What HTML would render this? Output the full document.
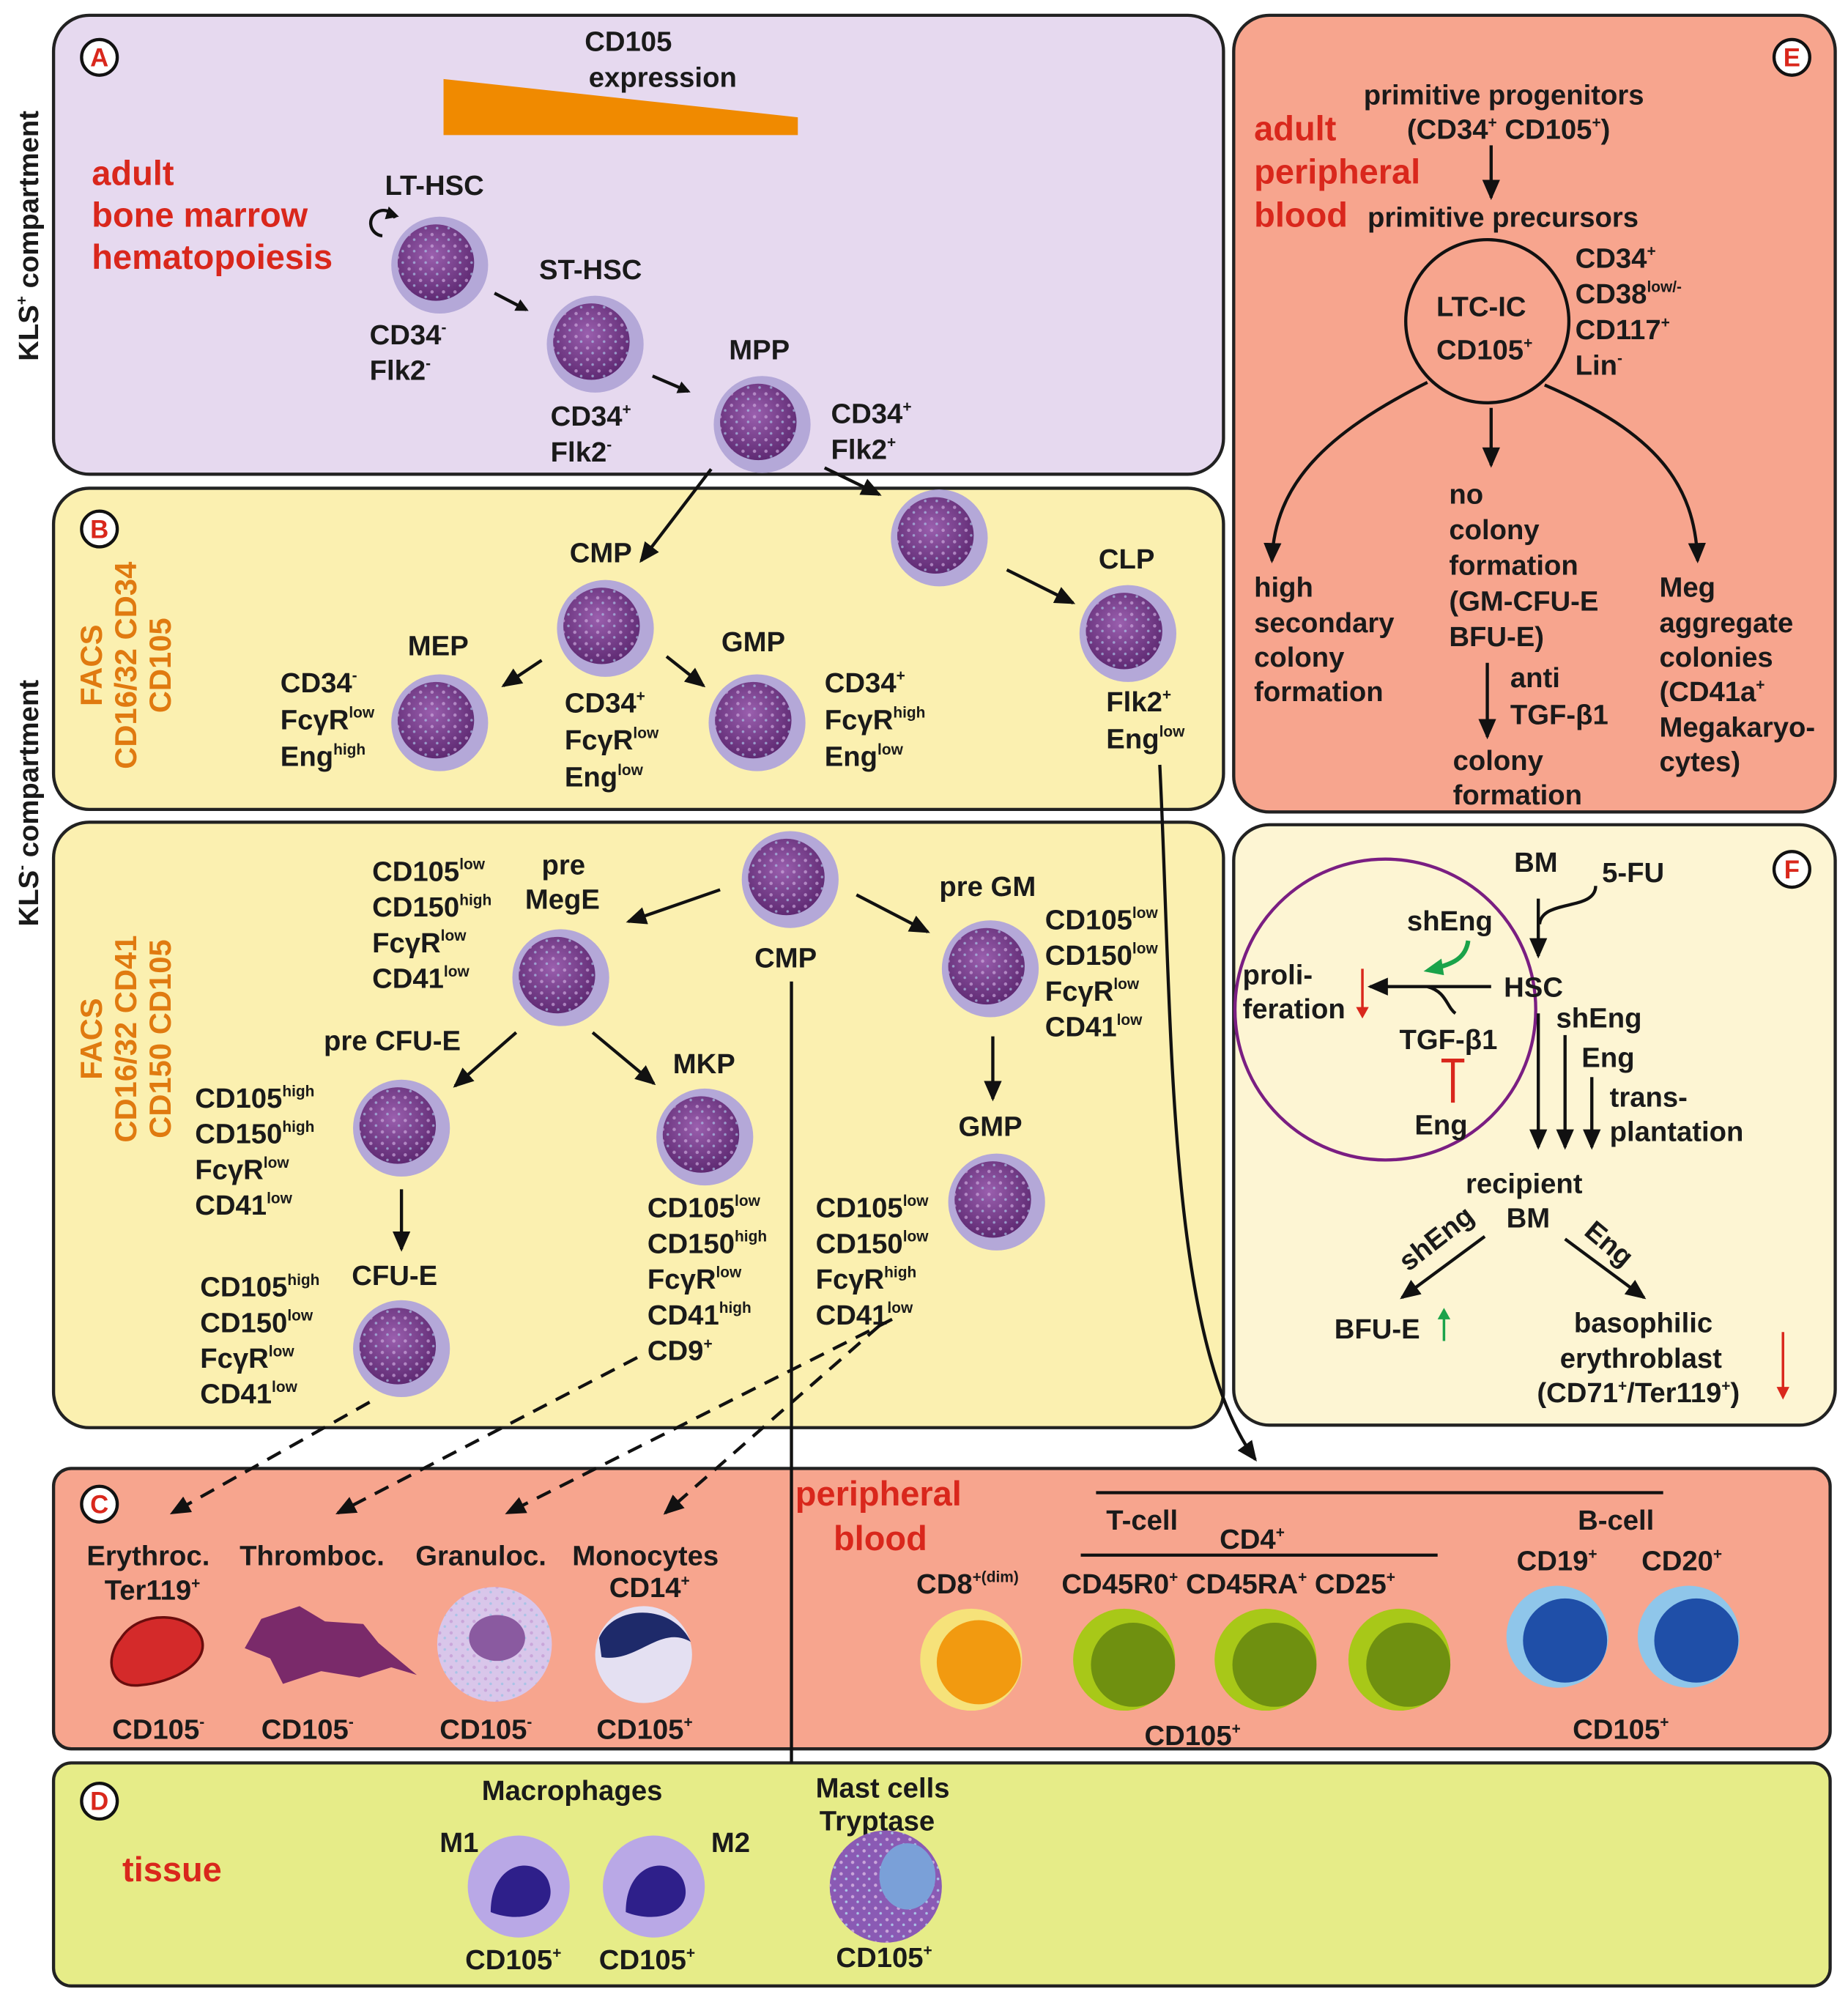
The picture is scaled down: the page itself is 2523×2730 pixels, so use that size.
<!DOCTYPE html>
<html><head><meta charset="utf-8"><style>
html,body{margin:0;padding:0;background:#fff}
svg{display:block}
text{font-family:"Liberation Sans",Arial,sans-serif;font-weight:bold;fill:#1a1a1a;font-size:22px}
.r{fill:#d9271c;font-size:27px}
.o{fill:#e07a10;font-size:24px}
.s{font-size:12px}
</style></head><body>
<svg width="2523" height="2730" viewBox="0 0 1450 1569" xmlns="http://www.w3.org/2000/svg">
<defs>
<radialGradient id="cg" cx="45%" cy="40%" r="60%"><stop offset="0" stop-color="#9a5fae"/><stop offset="1" stop-color="#5f2a73"/></radialGradient>
<pattern id="dots" width="9" height="9" patternUnits="userSpaceOnUse"><circle cx="3" cy="3" r="1.3" fill="#c9a6da"/><circle cx="7" cy="7" r="1" fill="#a9c3e6"/></pattern>
<g id="cell"><circle r="38" fill="#b4a8d8"/><circle cx="-3" cy="-2" r="30" fill="url(#cg)"/><circle cx="-3" cy="-2" r="30" fill="url(#dots)" opacity="0.7"/></g>
<marker id="ar" markerWidth="10" markerHeight="10" refX="8" refY="5" orient="auto" markerUnits="userSpaceOnUse"><path d="M0,0 L10,5 L0,10 z" fill="#111"/></marker>
<marker id="arl" markerWidth="16" markerHeight="14" refX="14" refY="7" orient="auto" markerUnits="userSpaceOnUse"><path d="M0,0 L16,7 L0,14 z" fill="#111"/></marker>
</defs>
<rect x="42" y="12" width="918" height="360" rx="28" fill="#e6d9ef" stroke="#222" stroke-width="2.5"/>
<rect x="42" y="383" width="918" height="252" rx="28" fill="#fbf0b0" stroke="#222" stroke-width="2.5"/>
<rect x="42" y="645" width="918" height="475" rx="28" fill="#fbf0b0" stroke="#222" stroke-width="2.5"/>
<rect x="968" y="12" width="472" height="625" rx="28" fill="#f7a58e" stroke="#222" stroke-width="2.5"/>
<rect x="968" y="647" width="472" height="471" rx="28" fill="#fdf5d3" stroke="#222" stroke-width="2.5"/>
<rect x="42" y="1152" width="1394" height="220" rx="14" fill="#f7a58e" stroke="#222" stroke-width="2.5"/>
<rect x="42" y="1383" width="1394" height="175" rx="14" fill="#e6ec88" stroke="#222" stroke-width="2.5"/>
<text transform="translate(30,185) rotate(-90)" text-anchor="middle">KLS<tspan dy="-9" class="s">+</tspan><tspan dy="9"> compartment</tspan></text>
<text transform="translate(30,630) rotate(-90)" text-anchor="middle">KLS<tspan dy="-9" class="s">-</tspan><tspan dy="9"> compartment</tspan></text>
<g fill="#fff" stroke="#111" stroke-width="2.5">
<circle cx="78" cy="45" r="14"/><circle cx="78" cy="415" r="14"/><circle cx="78" cy="1180" r="14"/><circle cx="78" cy="1413" r="14"/><circle cx="1406" cy="45" r="14"/><circle cx="1406" cy="682" r="14"/></g>
<g text-anchor="middle"><text x="78" y="52" class="r" style="font-size:20px">A</text><text x="78" y="422" class="r" style="font-size:20px">B</text><text x="78" y="1187" class="r" style="font-size:20px">C</text><text x="78" y="1420" class="r" style="font-size:20px">D</text><text x="1406" y="52" class="r" style="font-size:20px">E</text><text x="1406" y="689" class="r" style="font-size:20px">F</text></g>
<!-- A -->
<text x="493" y="40" text-anchor="middle">CD105</text><text x="520" y="68" text-anchor="middle">expression</text>
<polygon points="348,62 626,92 626,106 348,106" fill="#f08a00"/>
<text x="72" y="145" class="r">adult</text><text x="72" y="178" class="r">bone marrow</text><text x="72" y="211" class="r">hematopoiesis</text>
<text x="302" y="153">LT-HSC</text>
<path d="M300,185 a10,10 0 1 1 10,-14" fill="none" stroke="#111" stroke-width="2.5"/><path d="M305,162 l8,8 l-11,2z" fill="#111"/>
<use href="#cell" x="345" y="208"/>
<text x="290" y="270">CD34<tspan class="s" dy="-9">-</tspan></text><text x="290" y="298">Flk2<tspan class="s" dy="-9">-</tspan></text>
<text x="423" y="219">ST-HSC</text>
<line x1="388" y1="230" x2="413" y2="243" stroke="#111" stroke-width="2.5" marker-end="url(#ar)"/>
<use href="#cell" x="467" y="270"/>
<text x="432" y="334">CD34<tspan class="s" dy="-9">+</tspan></text><text x="432" y="362">Flk2<tspan class="s" dy="-9">-</tspan></text>
<text x="572" y="282">MPP</text>
<line x1="512" y1="295" x2="540" y2="307" stroke="#111" stroke-width="2.5" marker-end="url(#ar)"/>
<use href="#cell" x="598" y="333"/>
<text x="652" y="332">CD34<tspan class="s" dy="-9">+</tspan></text><text x="652" y="360">Flk2<tspan class="s" dy="-9">+</tspan></text>
<!-- B -->
<text transform="translate(80,522) rotate(-90)" text-anchor="middle" class="o">FACS</text>
<text transform="translate(107,522) rotate(-90)" text-anchor="middle" class="o">CD16/32 CD34</text>
<text transform="translate(134,522) rotate(-90)" text-anchor="middle" class="o">CD105</text>
<line x1="558" y1="368" x2="503" y2="440" stroke="#111" stroke-width="2.5" marker-end="url(#arl)"/>
<line x1="647" y1="367" x2="690" y2="388" stroke="#111" stroke-width="2.5" marker-end="url(#arl)"/>
<use href="#cell" x="737" y="422"/>
<line x1="790" y1="447" x2="842" y2="473" stroke="#111" stroke-width="2.5" marker-end="url(#arl)"/>
<text x="862" y="446">CLP</text>
<use href="#cell" x="885" y="497"/>
<text x="868" y="558">Flk2<tspan class="s" dy="-9">+</tspan></text><text x="868" y="587">Eng<tspan class="s" dy="-9">low</tspan></text>
<text x="447" y="441">CMP</text>
<use href="#cell" x="475" y="493"/>
<line x1="425" y1="518" x2="395" y2="538" stroke="#111" stroke-width="2.5" marker-end="url(#arl)"/>
<line x1="523" y1="515" x2="552" y2="538" stroke="#111" stroke-width="2.5" marker-end="url(#arl)"/>
<text x="320" y="514">MEP</text>
<use href="#cell" x="345" y="567"/>
<text x="220" y="543">CD34<tspan class="s" dy="-9">-</tspan></text><text x="220" y="572">FcγR<tspan class="s" dy="-9">low</tspan></text><text x="220" y="601">Eng<tspan class="s" dy="-9">high</tspan></text>
<text x="443" y="559">CD34<tspan class="s" dy="-9">+</tspan></text><text x="443" y="588">FcγR<tspan class="s" dy="-9">low</tspan></text><text x="443" y="617">Eng<tspan class="s" dy="-9">low</tspan></text>
<text x="566" y="511">GMP</text>
<use href="#cell" x="594" y="567"/>
<text x="647" y="543">CD34<tspan class="s" dy="-9">+</tspan></text><text x="647" y="572">FcγR<tspan class="s" dy="-9">high</tspan></text><text x="647" y="601">Eng<tspan class="s" dy="-9">low</tspan></text>
<!-- lower B -->
<text transform="translate(80,815) rotate(-90)" text-anchor="middle" class="o">FACS</text>
<text transform="translate(107,815) rotate(-90)" text-anchor="middle" class="o">CD16/32 CD41</text>
<text transform="translate(134,815) rotate(-90)" text-anchor="middle" class="o">CD150 CD105</text>
<use href="#cell" x="620" y="690"/>
<text x="592" y="759">CMP</text>
<line x1="621" y1="770" x2="621" y2="1383" stroke="#111" stroke-width="2.5"/>
<line x1="565" y1="698" x2="493" y2="723" stroke="#111" stroke-width="2.5" marker-end="url(#arl)"/>
<line x1="672" y1="702" x2="728" y2="731" stroke="#111" stroke-width="2.5" marker-end="url(#arl)"/>
<text x="425" y="686">pre</text><text x="412" y="713">MegE</text>
<text x="292" y="691">CD105<tspan class="s" dy="-9">low</tspan></text><text x="292" y="719">CD150<tspan class="s" dy="-9">high</tspan></text><text x="292" y="747">FcγR<tspan class="s" dy="-9">low</tspan></text><text x="292" y="775">CD41<tspan class="s" dy="-9">low</tspan></text>
<use href="#cell" x="440" y="767"/>
<text x="737" y="703">pre GM</text>
<use href="#cell" x="777" y="760"/>
<text x="820" y="729">CD105<tspan class="s" dy="-9">low</tspan></text><text x="820" y="757">CD150<tspan class="s" dy="-9">low</tspan></text><text x="820" y="785">FcγR<tspan class="s" dy="-9">low</tspan></text><text x="820" y="813">CD41<tspan class="s" dy="-9">low</tspan></text>
<line x1="779" y1="813" x2="779" y2="862" stroke="#111" stroke-width="2.5" marker-end="url(#arl)"/>
<text x="752" y="891">GMP</text>
<use href="#cell" x="782" y="943"/>
<text x="640" y="955">CD105<tspan class="s" dy="-9">low</tspan></text><text x="640" y="983">CD150<tspan class="s" dy="-9">low</tspan></text><text x="640" y="1011">FcγR<tspan class="s" dy="-9">high</tspan></text><text x="640" y="1039">CD41<tspan class="s" dy="-9">low</tspan></text>
<text x="254" y="824">pre CFU-E</text>
<line x1="405" y1="810" x2="357" y2="852" stroke="#111" stroke-width="2.5" marker-end="url(#arl)"/>
<line x1="465" y1="810" x2="513" y2="850" stroke="#111" stroke-width="2.5" marker-end="url(#arl)"/>
<text x="528" y="842">MKP</text>
<use href="#cell" x="315" y="885"/>
<use href="#cell" x="553" y="892"/>
<text x="153" y="869">CD105<tspan class="s" dy="-9">high</tspan></text><text x="153" y="897">CD150<tspan class="s" dy="-9">high</tspan></text><text x="153" y="925">FcγR<tspan class="s" dy="-9">low</tspan></text><text x="153" y="953">CD41<tspan class="s" dy="-9">low</tspan></text>
<text x="508" y="955">CD105<tspan class="s" dy="-9">low</tspan></text><text x="508" y="983">CD150<tspan class="s" dy="-9">high</tspan></text><text x="508" y="1011">FcγR<tspan class="s" dy="-9">low</tspan></text><text x="508" y="1039">CD41<tspan class="s" dy="-9">high</tspan></text><text x="508" y="1067">CD9<tspan class="s" dy="-9">+</tspan></text>
<line x1="315" y1="933" x2="315" y2="980" stroke="#111" stroke-width="2.5" marker-end="url(#arl)"/>
<text x="276" y="1008">CFU-E</text>
<use href="#cell" x="315" y="1058"/>
<text x="157" y="1017">CD105<tspan class="s" dy="-9">high</tspan></text><text x="157" y="1045">CD150<tspan class="s" dy="-9">low</tspan></text><text x="157" y="1073">FcγR<tspan class="s" dy="-9">low</tspan></text><text x="157" y="1101">CD41<tspan class="s" dy="-9">low</tspan></text>
<g stroke="#111" stroke-width="2.5" stroke-dasharray="12,8" fill="none">
<line x1="290" y1="1100" x2="135" y2="1187" marker-end="url(#arl)"/>
<line x1="500" y1="1065" x2="265" y2="1187" marker-end="url(#arl)"/>
<line x1="700" y1="1035" x2="398" y2="1187" marker-end="url(#arl)"/>
<line x1="690" y1="1040" x2="522" y2="1187" marker-end="url(#arl)"/>
</g>
<path d="M910,600 C920,800 915,1050 985,1145" fill="none" stroke="#111" stroke-width="2.5" marker-end="url(#arl)"/>
<!-- E -->
<text x="1070" y="82">primitive progenitors</text>
<text x="1104" y="109">(CD34<tspan class="s" dy="-9">+</tspan><tspan dy="9"> CD105</tspan><tspan class="s" dy="-9">+</tspan><tspan dy="9">)</tspan></text>
<text x="984" y="110" class="r">adult</text><text x="984" y="144" class="r">peripheral</text><text x="984" y="178" class="r">blood</text>
<line x1="1170" y1="114" x2="1170" y2="155" stroke="#111" stroke-width="2.5" marker-end="url(#arl)"/>
<text x="1073" y="178">primitive precursors</text>
<circle cx="1167" cy="252" r="64" fill="none" stroke="#111" stroke-width="2.5"/>
<text x="1127" y="248">LTC-IC</text><text x="1127" y="282">CD105<tspan class="s" dy="-9">+</tspan></text>
<text x="1236" y="210">CD34<tspan class="s" dy="-9">+</tspan></text><text x="1236" y="238">CD38<tspan class="s" dy="-9">low/-</tspan></text><text x="1236" y="266">CD117<tspan class="s" dy="-9">+</tspan></text><text x="1236" y="294">Lin<tspan class="s" dy="-9">-</tspan></text>
<path d="M1120,300 C1040,340 1000,380 998,440" fill="none" stroke="#111" stroke-width="2.5" marker-end="url(#arl)"/>
<path d="M1212,302 C1300,340 1330,380 1332,440" fill="none" stroke="#111" stroke-width="2.5" marker-end="url(#arl)"/>
<line x1="1170" y1="320" x2="1170" y2="365" stroke="#111" stroke-width="2.5" marker-end="url(#arl)"/>
<text x="1137" y="395">no</text><text x="1137" y="423">colony</text><text x="1137" y="451">formation</text><text x="1137" y="479">(GM-CFU-E</text><text x="1137" y="507">BFU-E)</text>
<text x="984" y="468">high</text><text x="984" y="496">secondary</text><text x="984" y="523">colony</text><text x="984" y="550">formation</text>
<text x="1302" y="468">Meg</text><text x="1302" y="496">aggregate</text><text x="1302" y="523">colonies</text><text x="1302" y="550">(CD41a<tspan class="s" dy="-9">+</tspan></text><text x="1302" y="578">Megakaryo-</text><text x="1302" y="605">cytes)</text>
<line x1="1167" y1="520" x2="1167" y2="578" stroke="#111" stroke-width="2.5" marker-end="url(#arl)"/>
<text x="1185" y="539">anti</text><text x="1185" y="568">TGF-β1</text>
<text x="1140" y="604">colony</text><text x="1140" y="631">formation</text>
<!-- F -->
<circle cx="1087" cy="792" r="118" fill="none" stroke="#7a1e82" stroke-width="2.5"/>
<text x="1188" y="684">BM</text><text x="1257" y="692">5-FU</text>
<path d="M1252,695 C1252,715 1210,705 1208,725" fill="none" stroke="#111" stroke-width="2.5"/>
<line x1="1207" y1="705" x2="1207" y2="750" stroke="#111" stroke-width="2.5" marker-end="url(#arl)"/>
<text x="1104" y="730">shEng</text>
<path d="M1152,738 C1150,752 1140,756 1125,760" fill="none" stroke="#1aa34a" stroke-width="3.5"/><path d="M1117,762 l14,-10 l2,13z" fill="#1aa34a"/>
<text x="1180" y="782">HSC</text>
<line x1="1170" y1="774" x2="1075" y2="774" stroke="#111" stroke-width="2.5" marker-end="url(#arl)"/>
<path d="M1120,774 C1135,778 1135,790 1142,795" fill="none" stroke="#111" stroke-width="2.5"/>
<text x="975" y="772">proli-</text><text x="975" y="799">feration</text>
<line x1="1069" y1="760" x2="1069" y2="792" stroke="#d9271c" stroke-width="2"/><path d="M1064,790 l10,0 l-5,9z" fill="#d9271c"/>
<text x="1098" y="823">TGF-β1</text>
<line x1="1140" y1="832" x2="1140" y2="865" stroke="#d9271c" stroke-width="3"/><line x1="1131" y1="832" x2="1149" y2="832" stroke="#d9271c" stroke-width="3"/>
<text x="1110" y="890">Eng</text>
<text x="1221" y="806">shEng</text><text x="1241" y="837">Eng</text><text x="1263" y="868">trans-</text><text x="1263" y="895">plantation</text>
<line x1="1207" y1="795" x2="1207" y2="900" stroke="#111" stroke-width="2.5" marker-end="url(#arl)"/>
<line x1="1228" y1="812" x2="1228" y2="900" stroke="#111" stroke-width="2.5" marker-end="url(#arl)"/>
<line x1="1249" y1="845" x2="1249" y2="900" stroke="#111" stroke-width="2.5" marker-end="url(#arl)"/>
<text x="1150" y="936">recipient</text><text x="1182" y="963">BM</text>
<line x1="1165" y1="970" x2="1100" y2="1018" stroke="#111" stroke-width="2.5" marker-end="url(#arl)"/>
<line x1="1228" y1="972" x2="1290" y2="1018" stroke="#111" stroke-width="2.5" marker-end="url(#arl)"/>
<text transform="translate(1105,998) rotate(-38)">shEng</text>
<text transform="translate(1242,968) rotate(40)">Eng</text>
<text x="1047" y="1050">BFU-E</text>
<line x1="1133" y1="1052" x2="1133" y2="1032" stroke="#1aa34a" stroke-width="2"/><path d="M1128,1035 l10,0 l-5,-9z" fill="#1aa34a"/>
<text x="1235" y="1045">basophilic</text><text x="1224" y="1073">erythroblast</text>
<text x="1206" y="1100">(CD71<tspan class="s" dy="-9">+</tspan><tspan dy="9">/Ter119</tspan><tspan class="s" dy="-9">+</tspan><tspan dy="9">)</tspan></text>
<line x1="1399" y1="1045" x2="1399" y2="1090" stroke="#d9271c" stroke-width="2"/><path d="M1394,1088 l10,0 l-5,10z" fill="#d9271c"/>
<!-- C -->
<text x="68" y="1228">Erythroc.</text><text x="82" y="1255">Ter119<tspan class="s" dy="-9">+</tspan></text>
<text x="188" y="1228">Thromboc.</text><text x="326" y="1228">Granuloc.</text><text x="449" y="1228">Monocytes</text>
<text x="478" y="1253">CD14<tspan class="s" dy="-9">+</tspan></text>
<path d="M95,1285 C110,1262 150,1265 158,1285 C165,1305 135,1320 110,1322 C85,1325 82,1300 95,1285z" fill="#d42a2a" stroke="#6a0d0d" stroke-width="2"/>
<path d="M205,1270 l30,-10 l20,12 l30,2 l12,15 l30,25 l-20,-6 l-25,8 l-30,-5 l-30,10 l-10,-20 l-20,-8 z" fill="#7a2a6a"/>
<circle cx="388" cy="1290" r="45" fill="#d9c6ea"/><circle cx="388" cy="1290" r="45" fill="url(#dots)"/><ellipse cx="390" cy="1285" rx="22" ry="18" fill="#8a5aa0"/>
<circle cx="505" cy="1298" r="38" fill="#e4e0f2"/><path d="M470,1285 C482,1258 528,1258 542,1288 C518,1274 500,1305 472,1300z" fill="#1e2a6a"/>
<text x="88" y="1364">CD105<tspan class="s" dy="-9">-</tspan></text><text x="205" y="1364">CD105<tspan class="s" dy="-9">-</tspan></text><text x="345" y="1364">CD105<tspan class="s" dy="-9">-</tspan></text><text x="468" y="1364">CD105<tspan class="s" dy="-9">+</tspan></text>
<text x="624" y="1181" class="r">peripheral</text><text x="654" y="1216" class="r">blood</text>
<line x1="860" y1="1171" x2="1305" y2="1171" stroke="#111" stroke-width="2.5"/>
<text x="868" y="1200">T-cell</text><text x="1238" y="1200">B-cell</text>
<text x="957" y="1215">CD4<tspan class="s" dy="-9">+</tspan></text>
<line x1="848" y1="1220" x2="1128" y2="1220" stroke="#111" stroke-width="2.5"/>
<text x="719" y="1250">CD8<tspan class="s" dy="-9">+(dim)</tspan></text>
<text x="833" y="1250">CD45R0<tspan class="s" dy="-9">+</tspan><tspan dy="9"> CD45RA</tspan><tspan class="s" dy="-9">+</tspan><tspan dy="9">  CD25</tspan><tspan class="s" dy="-9">+</tspan></text>
<text x="1190" y="1232">CD19<tspan class="s" dy="-9">+</tspan></text><text x="1288" y="1232">CD20<tspan class="s" dy="-9">+</tspan></text>
<circle cx="762" cy="1302" r="40" fill="#f6e27a"/><circle cx="768" cy="1304" r="33" fill="#f29a10"/>
<g><circle cx="882" cy="1302" r="40" fill="#a8c818"/><circle cx="889" cy="1306" r="33" fill="#6f9010"/></g>
<g><circle cx="993" cy="1302" r="40" fill="#a8c818"/><circle cx="1000" cy="1306" r="33" fill="#6f9010"/></g>
<g><circle cx="1098" cy="1302" r="40" fill="#a8c818"/><circle cx="1105" cy="1306" r="33" fill="#6f9010"/></g>
<circle cx="1222" cy="1284" r="40" fill="#8fc6ea"/><circle cx="1228" cy="1287" r="33" fill="#1f4fa8"/>
<circle cx="1325" cy="1284" r="40" fill="#8fc6ea"/><circle cx="1331" cy="1287" r="33" fill="#1f4fa8"/>
<text x="898" y="1369">CD105<tspan class="s" dy="-9">+</tspan></text><text x="1234" y="1364">CD105<tspan class="s" dy="-9">+</tspan></text>
<!-- D -->
<text x="96" y="1476" class="r">tissue</text>
<text x="378" y="1412">Macrophages</text><text x="345" y="1453">M1</text><text x="558" y="1453">M2</text>
<text x="640" y="1410">Mast cells</text><text x="643" y="1436">Tryptase</text>
<g><circle cx="407" cy="1480" r="40" fill="#b9a8e6"/><path d="M385,1500 C385,1460 420,1455 430,1475 C440,1500 410,1510 385,1500z" fill="#2e1f8a"/></g>
<g><circle cx="513" cy="1480" r="40" fill="#b9a8e6"/><path d="M491,1500 C491,1460 526,1455 536,1475 C546,1500 516,1510 491,1500z" fill="#2e1f8a"/></g>
<g><circle cx="695" cy="1480" r="44" fill="#8a5ab4"/><circle cx="695" cy="1480" r="44" fill="url(#dots)"/><ellipse cx="712" cy="1472" rx="22" ry="26" fill="#7aa0d8"/></g>
<text x="365" y="1545">CD105<tspan class="s" dy="-9">+</tspan></text><text x="470" y="1545">CD105<tspan class="s" dy="-9">+</tspan></text><text x="656" y="1543">CD105<tspan class="s" dy="-9">+</tspan></text>
</svg>
</body></html>
